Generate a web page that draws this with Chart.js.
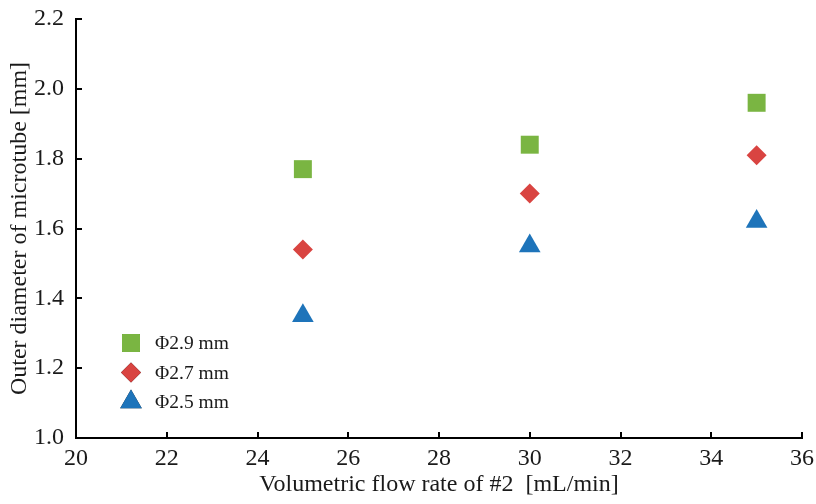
<!DOCTYPE html>
<html>
<head>
<meta charset="utf-8">
<script src="https://cdn.jsdelivr.net/npm/chart.js@4/dist/chart.umd.min.js"></script>
<style>
html, body { margin: 0; padding: 0; background: #fff; }
#wrap { width: 816px; height: 504px; }
</style>
</head>
<body>
<div id="wrap"><canvas id="chart" width="816" height="504"></canvas></div>
<script>
// Данные графика
const flowRates = [25, 30, 35];
const diam29 = [1.77, 1.84, 1.96];
const diam27 = [1.54, 1.70, 1.81];
const diam25 = [1.35, 1.55, 1.62];
const seriesNames = ['Φ2.9 mm', 'Φ2.7 mm', 'Φ2.5 mm'];
const xTitle = 'Volumetric flow rate of #2  [mL/min]';
const yTitle = 'Outer diameter of microtube [mm]';

const serif = '"Liberation Serif", "Times New Roman", serif';
const textColor = '#1a1a1a';

function toPoints(ys) {
    return flowRates.map((x, i) => ({ x: x, y: ys[i] }));
}

// Засечки внутрь области графика
const innerTicks = {
    id: 'innerTicks',
    afterDraw(chart) {
        const { ctx, chartArea, scales: { x, y } } = chart;
        ctx.save();
        ctx.strokeStyle = '#000';
        ctx.lineWidth = 2;
        ctx.beginPath();
        x.ticks.forEach(t => {
            const px = Math.round(x.getPixelForValue(t.value));
            ctx.moveTo(px, chartArea.bottom);
            ctx.lineTo(px, chartArea.bottom - 6);
        });
        y.ticks.forEach(t => {
            const py = Math.round(y.getPixelForValue(t.value));
            ctx.moveTo(chartArea.left, py);
            ctx.lineTo(chartArea.left + 6, py);
        });
        ctx.stroke();
        ctx.restore();
    }
};

// Легенда внутри области графика, слева снизу
const innerLegend = {
    id: 'innerLegend',
    afterDraw(chart) {
        const { ctx, chartArea } = chart;
        ctx.save();
        ctx.font = '19.5px ' + serif;
        ctx.textBaseline = 'middle';
        chart.data.datasets.forEach((ds, i) => {
            const mx = chartArea.left + 55;
            const my = chartArea.bottom - 95 + i * 29.5;
            Chart.helpers.drawPoint(ctx, {
                pointStyle: ds.pointStyle,
                radius: ds.pointRadius,
                borderWidth: 0
            }, mx, my);
            ctx.fillStyle = ds.backgroundColor;
            ctx.fill();
            ctx.fillStyle = textColor;
            ctx.fillText(ds.label, mx + 24, my + 1);
        });
        ctx.restore();
    }
};

const ctx = document.getElementById('chart').getContext('2d');
const chart = new Chart(ctx, {
    type: 'scatter',
    data: {
        datasets: [
            {
                label: seriesNames[0],
                data: toPoints(diam29),
                pointStyle: 'rect',
                pointRadius: 12.7,
                backgroundColor: 'rgb(122, 181, 66)',
                borderColor: 'rgb(122, 181, 66)',
                borderWidth: 0
            },
            {
                label: seriesNames[1],
                data: toPoints(diam27),
                pointStyle: 'rectRot',
                pointRadius: 10,
                backgroundColor: 'rgb(217, 68, 65)',
                borderColor: 'rgb(217, 68, 65)',
                borderWidth: 0
            },
            {
                label: seriesNames[2],
                data: toPoints(diam25),
                pointStyle: 'triangle',
                pointRadius: 12.5,
                backgroundColor: 'rgb(30, 116, 186)',
                borderColor: 'rgb(30, 116, 186)',
                borderWidth: 0
            }
        ]
    },
    options: {
        responsive: false,
        animation: false,
        devicePixelRatio: 1,
        layout: { padding: { left: 0, right: 14, top: 19, bottom: 0 } },
        plugins: {
            legend: { display: false },
            tooltip: { enabled: false }
        },
        scales: {
            x: {
                type: 'linear',
                min: 20,
                max: 36,
                ticks: {
                    stepSize: 2,
                    padding: 6,
                    color: textColor,
                    font: { family: serif, size: 24 }
                },
                grid: { display: false, drawTicks: false },
                border: { display: true, color: '#000', width: 2 },
                title: {
                    display: true,
                    text: xTitle,
                    color: textColor,
                    font: { family: serif, size: 24 },
                    padding: { top: 0, bottom: 5 }
                },
                afterFit: s => {
                    s.height = 66;
                    s.paddingLeft = 0;
                    s.paddingRight = 0;
                }
            },
            y: {
                type: 'linear',
                min: 1.0,
                max: 2.2,
                ticks: {
                    stepSize: 0.2,
                    padding: 12,
                    color: textColor,
                    font: { family: serif, size: 24 },
                    callback: v => v.toFixed(1)
                },
                grid: { display: false, drawTicks: false },
                border: { display: true, color: '#000', width: 2 },
                title: {
                    display: true,
                    text: yTitle,
                    color: textColor,
                    font: { family: serif, size: 24 },
                    padding: { top: 5, bottom: 0 }
                },
                afterFit: s => {
                    s.width = 76;
                    s.paddingTop = 0;
                    s.paddingBottom = 0;
                }
            }
        }
    },
    plugins: [innerTicks, innerLegend]
});
</script>
</body>
</html>
